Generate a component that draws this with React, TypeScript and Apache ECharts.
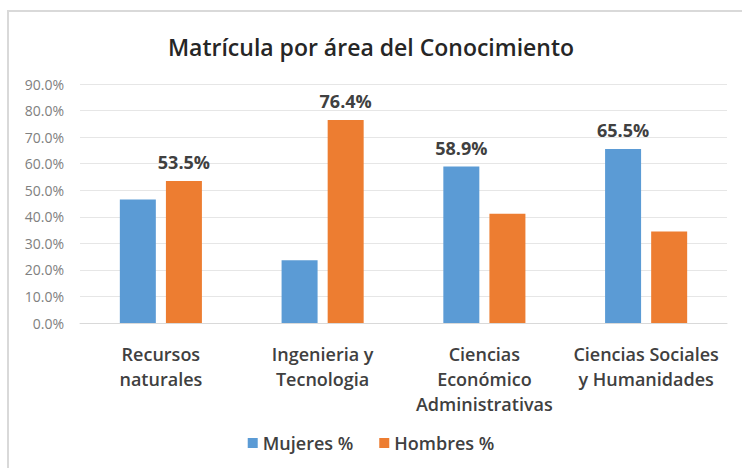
import React, { useEffect, useRef } from "react";
import * as echarts from "echarts";

const categories = [
  "Recursos\nnaturales",
  "Ingenieria y\nTecnologia",
  "Ciencias\nEconómico\nAdministrativas",
  "Ciencias Sociales\ny Humanidades",
];
const mujeres = [46.5, 23.6, 58.9, 65.5];
const hombres = [53.5, 76.4, 41.1, 34.5];
const yTicks = [0, 10, 20, 30, 40, 50, 60, 70, 80, 90];

const FONT = "'Open Sans', 'Noto Sans', sans-serif";

export default function App() {
  const ref = useRef<HTMLDivElement>(null);
  useEffect(() => {
    if (!ref.current) return;
    const chart = echarts.init(ref.current, undefined, { renderer: "svg" });
    const labelFor = (own: number[], other: number[]) =>
      own.map((v, i) => ({
        value: v,
        label: {
          show: v > other[i],
          position: "top",
          distance: 10,
          formatter: (p: any) => `${Number(p.value).toFixed(1)}%`,
          color: "#404040",
          fontWeight: "bold",
          fontSize: 18,
          fontFamily: FONT,
        },
      }));
    chart.setOption({
      animation: false,
      backgroundColor: "#ffffff",
      title: {
        text: "Matrícula por área del Conocimiento",
        left: "center",
        top: 30,
        textStyle: {
          fontFamily: FONT,
          fontSize: 23,
          fontWeight: 600,
          color: "#262626",
        },
      },
      graphic: [
        {
          type: "rect",
          shape: { x: 8, y: 11, width: 800, height: 520 },
          style: { fill: "none", stroke: "#d9d9d9", lineWidth: 2 },
          silent: true,
        },
      ],
      legend: {
        data: ["Mujeres %", "Hombres %"],
        bottom: 11,
        left: "center",
        itemWidth: 10,
        itemHeight: 10,
        itemGap: 26,
        icon: "rect",
        textStyle: { fontFamily: FONT, fontSize: 18, fontWeight: 600, color: "#404040" },
      },
      grid: { left: 80, right: 15, top: 84, bottom: 145, containLabel: false },
      xAxis: {
        type: "category",
        data: categories,
        axisLine: { lineStyle: { color: "#d9d9d9", width: 1 } },
        axisTick: { show: false },
        axisLabel: {
          interval: 0,
          margin: 18,
          lineHeight: 25,
          fontFamily: FONT,
          fontSize: 18,
          fontWeight: 600,
          color: "#404040",
          verticalAlign: "top",
        },
      },
      yAxis: {
        type: "value",
        min: 0,
        max: 90,
        interval: 10,
        axisLine: { show: false },
        axisTick: { show: false },
        splitLine: { lineStyle: { color: "#e6e6e6", width: 1 } },
        axisLabel: {
          margin: 16,
          fontFamily: FONT,
          fontSize: 14,
          color: "#808080",
          formatter: (v: number) =>
            yTicks.includes(v) ? `${v.toFixed(1)}%` : "",
        },
      },
      series: [
        {
          name: "Mujeres %",
          type: "bar",
          data: labelFor(mujeres, hombres),
          itemStyle: { color: "#5B9BD5" },
          barWidth: 36,
          barGap: "28%",
        },
        {
          name: "Hombres %",
          type: "bar",
          data: labelFor(hombres, mujeres),
          itemStyle: { color: "#ED7D31" },
          barWidth: 36,
          barGap: "28%",
        },
      ],
    });
    return () => chart.dispose();
  }, []);
  return (
    <div
      ref={ref}
      style={{ width: 742, height: 468, position: "absolute", left: 0, top: 0 }}
    />
  );
}
